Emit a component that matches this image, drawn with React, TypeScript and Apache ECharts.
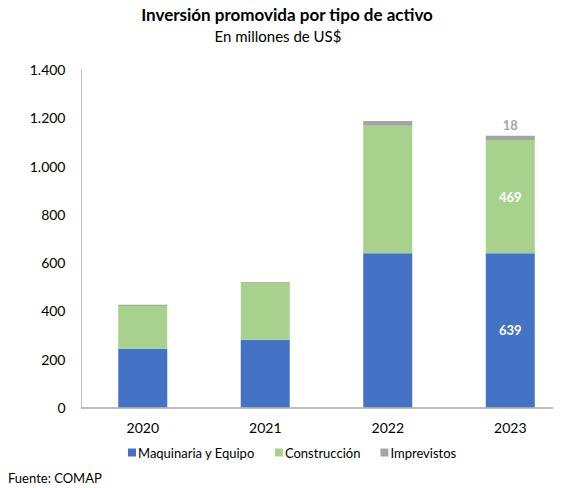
import React, { useEffect, useRef } from "react";
import * as echarts from "echarts";

const categories = ["2020", "2021", "2022", "2023"];
const maquinaria = [243, 280, 639, 639];
const construccion = [177, 236, 529, 469];
const imprevistos = [5, 4, 19, 18];
const yTicks = [0, 200, 400, 600, 800, 1000, 1200, 1400];
const seriesNames = ["Maquinaria y Equipo", "Construcción", "Imprevistos"];
const labelledIndex = 3;

const FONT = "Lato, 'Open Sans', sans-serif";

function fmt(v: number) {
  return String(v).replace(/\B(?=(\d{3})+(?!\d))/g, ".");
}

export default function App() {
  const ref = useRef<HTMLDivElement>(null);
  useEffect(() => {
    if (!ref.current) return;
    const chart = echarts.init(ref.current, undefined, { renderer: "svg" });
    const mk = (vals: number[], color: string, pos: string) =>
      vals.map((v, i) =>
        i === labelledIndex
          ? {
              value: v,
              label: {
                show: true,
                position: pos,
                color: color,
                fontWeight: "bold",
                fontSize: 13,
                fontFamily: FONT,
                distance: 4,
              },
            }
          : v
      );
    chart.setOption({
      animation: false,
      textStyle: { fontFamily: FONT },
      graphic: [
        {
          type: "text",
          x: 287,
          y: 14,
          style: {
            text: "Inversión promovida por tipo de activo",
            fontFamily: FONT,
            fontWeight: "bold",
            fontSize: 17,
            fill: "#000",
            textAlign: "center",
            textVerticalAlign: "middle",
          },
        },
        {
          type: "text",
          x: 278,
          y: 36,
          style: {
            text: "En millones de US$",
            fontFamily: FONT,
            fontSize: 15,
            fill: "#000",
            textAlign: "center",
            textVerticalAlign: "middle",
          },
        },
        {
          type: "text",
          x: 8,
          y: 478,
          style: {
            text: "Fuente: COMAP",
            fontFamily: FONT,
            fontSize: 13,
            fill: "#000",
            textAlign: "left",
            textVerticalAlign: "middle",
          },
        },
      ],
      legend: {
        data: seriesNames,
        left: 123,
        top: 441,
        icon: "rect",
        itemWidth: 8,
        itemHeight: 8,
        itemGap: 20,
        textStyle: { fontFamily: FONT, fontSize: 13, color: "#000", padding: [0, 0, 0, -3] },
      },
      grid: { left: 81.5, width: 490, top: 69.7, height: 337.6 },
      xAxis: {
        type: "category",
        data: categories,
        axisLine: { lineStyle: { color: "#a6a6a6", width: 1.5 } },
        axisTick: { show: false },
        axisLabel: { fontFamily: FONT, fontSize: 14, color: "#000", margin: 13 },
      },
      yAxis: {
        type: "value",
        min: yTicks[0],
        max: yTicks[yTicks.length - 1],
        interval: 200,
        splitLine: { show: false },
        axisLine: { show: true, lineStyle: { color: "#bfbfbf", width: 1 } },
        axisTick: { show: false },
        axisLabel: {
          fontFamily: FONT,
          fontSize: 14,
          color: "#000",
          margin: 16,
          formatter: (v: number) => fmt(v),
        },
      },
      series: [
        {
          name: seriesNames[0],
          type: "bar",
          stack: "t",
          barWidth: 49,
          itemStyle: { color: "#4472C4" },
          data: mk(maquinaria, "#fff", "inside"),
        },
        {
          name: seriesNames[1],
          type: "bar",
          stack: "t",
          barWidth: 49,
          itemStyle: { color: "#A9D18E" },
          data: mk(construccion, "#fff", "inside"),
        },
        {
          name: seriesNames[2],
          type: "bar",
          stack: "t",
          barWidth: 49,
          itemStyle: { color: "#A5A5A5" },
          data: mk(imprevistos, "#A5A5A5", "top"),
        },
      ],
    });
    return () => chart.dispose();
  }, []);
  return (
    <div style={{ width: 561, height: 488, marginLeft: -8, marginTop: -8, overflow: "hidden" }}>
      <div ref={ref} style={{ width: 600, height: 488 }} />
    </div>
  );
}
